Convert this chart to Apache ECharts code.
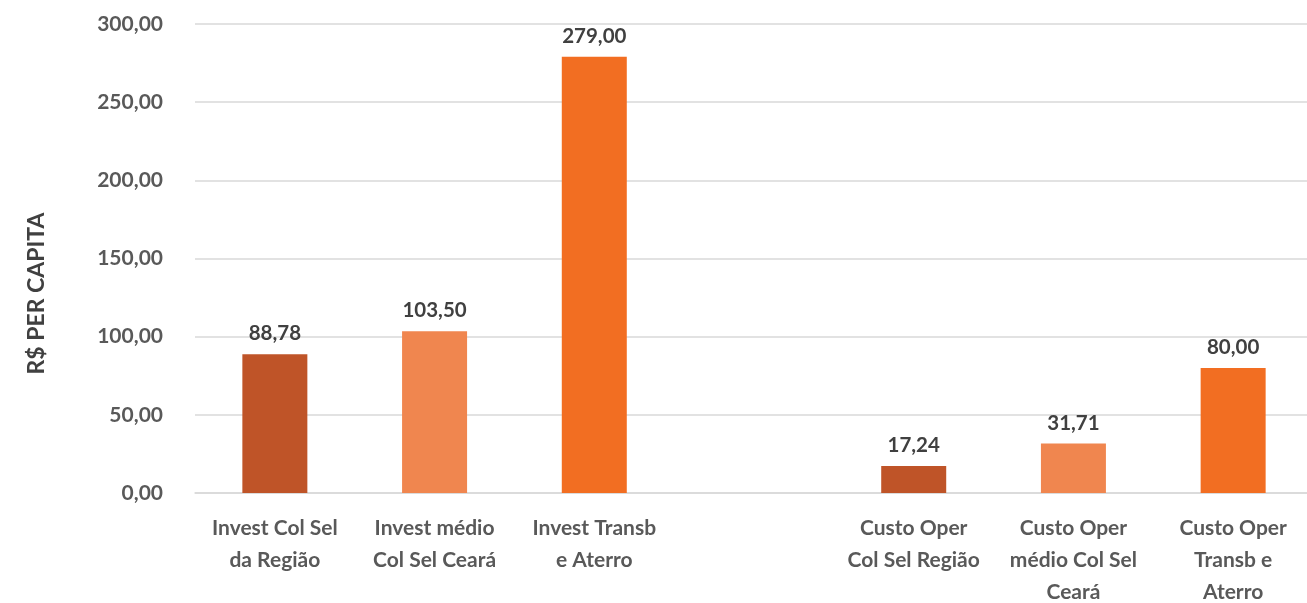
<!DOCTYPE html>
<html>
<head>
<meta charset="utf-8">
<script src="https://cdn.jsdelivr.net/npm/echarts@6/dist/echarts.min.js"></script>
<style>
  html, body { margin: 0; padding: 0; background: #fff; }
  #chart { width: 1307px; height: 603px; }
</style>
</head>
<body>
<div id="chart"></div>
<script>
// categorias (a 4a fica vazia para separar os dois grupos)
var categorias = [
    'Invest Col Sel\nda Região',
    'Invest médio\nCol Sel Ceará',
    'Invest Transb\ne Aterro',
    '',
    'Custo Oper\nCol Sel Região',
    'Custo Oper\nmédio Col Sel\nCeará',
    'Custo Oper\nTransb e\nAterro'
]
var valores = [88.78, 103.5, 279, null, 17.24, 31.71, 80]
var cores = ['#BF5428', '#F0864F', '#F26E22', '#fff', '#BF5428', '#F0864F', '#F26E22']

function fmt(v) {
    return v.toFixed(2).replace('.', ',')
}

var myChart = echarts.init(document.getElementById('chart'))
var option = {
    animation: false,
    textStyle: { fontFamily: 'Lato' },
    grid: {
        left: 195,
        top: 24,
        width: 1118,
        bottom: 110,
        outerBoundsMode: 'none',
        containLabel: false
    },
    xAxis: {
        type: 'category',
        data: categorias,
        axisTick: { show: false },
        axisLine: { lineStyle: { color: '#d9d9d9', width: 1.5 } },
        axisLabel: {
            interval: 0,
            margin: 19,
            color: '#595959',
            fontSize: 21,
            fontWeight: 'bold',
            lineHeight: 32,
            fontFamily: 'Lato'
        }
    },
    yAxis: {
        type: 'value',
        min: 0,
        max: 300,
        interval: 50,
        name: 'R$ PER CAPITA',
        nameLocation: 'middle',
        nameGap: 147,
        nameTextStyle: {
            color: '#404040',
            fontSize: 23,
            fontWeight: 'bold',
            fontFamily: 'Lato',
            padding: [0, 70, 0, 0]
        },
        axisLine: { show: false },
        axisTick: { show: false },
        splitLine: { lineStyle: { color: '#d9d9d9', width: 1.5 } },
        axisLabel: {
            margin: 32,
            color: '#595959',
            fontSize: 21,
            fontWeight: 'bold',
            fontFamily: 'Lato',
            formatter: function (v) { return fmt(v) }
        }
    },
    series: [
        {
            type: 'bar',
            barWidth: 65,
            data: valores.map(function (v, i) {
                return { value: v, itemStyle: { color: cores[i] } }
            }),
            label: {
                show: true,
                position: 'top',
                distance: 10,
                color: '#404040',
                fontSize: 20.5,
                fontWeight: 'bold',
                fontFamily: 'Lato',
                formatter: function (p) { return fmt(p.value) }
            }
        }
    ]
}
myChart.setOption(option)
</script>
</body>
</html>
